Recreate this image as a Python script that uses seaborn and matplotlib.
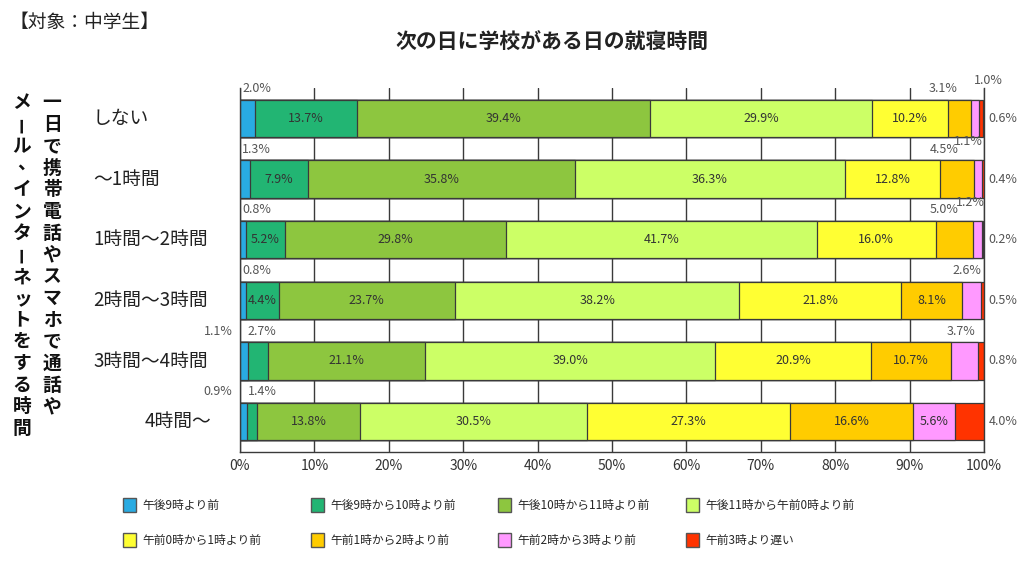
import matplotlib
matplotlib.use("Agg")
import matplotlib.pyplot as plt
import matplotlib.transforms as mtransforms
from matplotlib.patches import Patch
import numpy as np
import seaborn as sns

# rows (usage time per day) and bedtime categories
rows = ["しない", "～1時間", "1時間～2時間", "2時間～3時間", "3時間～4時間", "4時間～"]
categories = ["午後9時より前", "午後9時から10時より前", "午後10時から11時より前", "午後11時から午前0時より前",
              "午前0時から1時より前", "午前1時から2時より前", "午前2時から3時より前", "午前3時より遅い"]

# percentages per category, one value per row
before_9pm = [2.0, 1.3, 0.8, 0.8, 1.1, 0.9]
from_9_to_10 = [13.7, 7.9, 5.2, 4.4, 2.7, 1.4]
from_10_to_11 = [39.4, 35.8, 29.8, 23.7, 21.1, 13.8]
from_11_to_0 = [29.9, 36.3, 41.7, 38.2, 39.0, 30.5]
from_0_to_1 = [10.2, 12.8, 16.0, 21.8, 20.9, 27.3]
from_1_to_2 = [3.1, 4.5, 5.0, 8.1, 10.7, 16.6]
from_2_to_3 = [1.0, 1.1, 1.2, 2.6, 3.7, 5.6]
after_3am = [0.6, 0.4, 0.2, 0.5, 0.8, 4.0]

x_ticks = [0, 10, 20, 30, 40, 50, 60, 70, 80, 90, 100]

colors = ["#29ABE2", "#22B573", "#8DC63F", "#CCFF66", "#FFFF33", "#FFCC00", "#FF99FF", "#FF3300"]

# where the small values are written outside the bars: (row, segment) -> (x %, level, ha)
outside = {
    (0, 0): (0.3, "lo", "left"), (0, 5): (96.4, "lo", "right"), (0, 6): (98.7, "hi", "left"), (0, 7): None,
    (1, 0): (0.3, "lo", "left"), (1, 5): (96.6, "lo", "right"), (1, 6): (99.9, "hi", "right"), (1, 7): None,
    (2, 0): (0.3, "lo", "left"), (2, 5): (96.6, "lo", "right"), (2, 6): (100.1, "hi", "right"), (2, 7): None,
    (3, 0): (0.3, "lo", "left"), (3, 6): (99.7, "lo", "right"), (3, 7): None,
    (4, 0): (-1.0, "lo", "right"), (4, 1): (1.0, "lo", "left"), (4, 6): (98.8, "lo", "right"), (4, 7): None,
    (5, 0): (-1.0, "lo", "right"), (5, 1): (1.0, "lo", "left"), (5, 7): None,
}

sns.set_style("white")
plt.rcParams["font.family"] = ["Noto Sans CJK JP", "DejaVu Sans"]

table = np.array([before_9pm, from_9_to_10, from_10_to_11, from_11_to_0,
                  from_0_to_1, from_1_to_2, from_2_to_3, after_3am]).T
cum = np.cumsum(table, axis=1)

fig = plt.figure(figsize=(10.24, 5.61), dpi=100)
ax = fig.add_axes([240 / 1024, 1 - 452 / 561, 744 / 1024, 364 / 561])

# stacked bars: draw the cumulative totals from the right-most category back to the first
for k in range(len(categories) - 1, -1, -1):
    sns.barplot(x=cum[:, k], y=rows, order=rows, orient="h", color=colors[k],
                edgecolor="#3a3a3a", linewidth=0.9, width=0.62, errorbar=None,
                saturation=1, ax=ax)

ax.set_xlim(0, 100)
ax.set_ylim(5.5, -0.5)
ax.set_xticks(x_ticks)
ax.set_xticklabels([f"{t}%" for t in x_ticks], fontsize=10, color="#333333")
ax.tick_params(axis="x", length=0, pad=5)
ax.set_yticks([])
ax.set_xlabel("")
ax.set_ylabel("")
ax.xaxis.grid(True, color="#3a3a3a", linewidth=1.0)
ax.set_axisbelow(True)
for side in ["left", "bottom", "right"]:
    ax.spines[side].set_color("#3a3a3a")
    ax.spines[side].set_linewidth(1.0)
ax.spines["top"].set_visible(False)

# value labels
for i in range(len(rows)):
    for k in range(len(categories)):
        v = table[i, k]
        start = cum[i, k] - v
        txt = f"{v:.1f}%"
        if (i, k) in outside:
            spec = outside[(i, k)]
            if spec is None:
                ax.text(100.6, i, txt, ha="left", va="center", fontsize=9, color="#555555")
            else:
                x, level, ha = spec
                y = i - 0.49 if level == "lo" else i - 0.62
                ax.text(x, y, txt, ha=ha, va="center", fontsize=9, color="#555555")
        else:
            ax.text(start + v / 2, i, txt, ha="center", va="center", fontsize=9, color="#333333")

# row labels
trans = mtransforms.blended_transform_factory(fig.transFigure, ax.transData)
for i, r in enumerate(rows):
    if i < len(rows) - 1:
        ax.text(93 / 1024, i, r, transform=trans, ha="left", va="center", fontsize=13.5, color="#222222")
    else:
        ax.text(211 / 1024, i, r, transform=trans, ha="right", va="center", fontsize=13.5, color="#222222")

# vertical axis title, two columns written top to bottom
col_right = "一日で携帯電話やスマホで通話や"
col_left = "メール、インターネットをする時間"
pitch = 21.7
for xpx, col in [(52, col_right), (22, col_left)]:
    for j, ch in enumerate(col):
        ypx = 103 + j * pitch
        rot = 90 if ch == "ー" else 0
        dx, dy = (5, -5) if ch == "、" else (0, 0)
        fs = 12 if ch == "ー" else 13.5
        fig.text((xpx + dx) / 1024, 1 - (ypx + dy) / 561, ch, ha="center", va="center",
                 fontsize=fs, fontweight="bold", rotation=rot, color="#111111")

fig.text(552 / 1024, 1 - 42 / 561, "次の日に学校がある日の就寝時間", ha="center", va="center",
         fontsize=15, fontweight="bold", color="#222222")
fig.text(10 / 1024, 1 - 22 / 561, "【対象：中学生】", ha="left", va="center", fontsize=13.5, color="#222222")

# legend: four columns, two rows
col_x = [123, 311, 498, 686]
for c in range(4):
    handles = [Patch(facecolor=colors[k], edgecolor="#555555", linewidth=1.0, label=categories[k])
               for k in (c, c + 4)]
    fig.legend(handles=handles, loc="upper left", bbox_to_anchor=(col_x[c] / 1024, 1 - 498 / 561),
               frameon=False, borderpad=0, borderaxespad=0, handlelength=1.1, handleheight=1.45,
               handletextpad=0.55, labelspacing=1.75, fontsize=8.5)

fig.savefig("out.png", dpi=100)
